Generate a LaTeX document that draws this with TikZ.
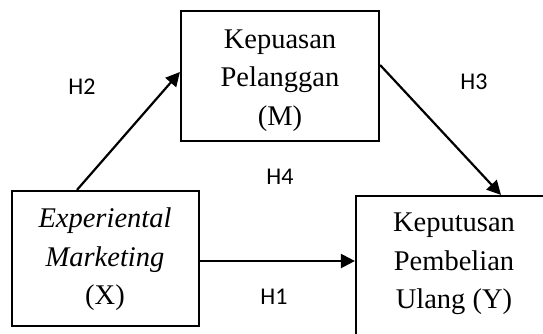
\documentclass[tikz,border=0pt]{standalone}
\usepackage{fontspec}
\setmainfont{Liberation Serif}
\newfontfamily\hfont{Carlito}
\usetikzlibrary{arrows.meta}
\begin{document}
\begin{tikzpicture}[x=1pt,y=-1pt,
  box/.style={draw,line width=2.2pt,rectangle,inner sep=0pt},
  btext/.style={inner sep=0pt,align=center,font=\fontsize{28.5}{38.5}\selectfont},
  arr/.style={line width=2.2pt,-{Triangle[length=14pt,width=14pt]}},
  hlab/.style={font=\hfont\fontsize{24}{28}\selectfont,inner sep=0pt}]
\useasboundingbox (0,0) rectangle (543,333);
\clip (0,0) rectangle (543,333);
\node[box,minimum width=187pt,minimum height=135pt] (X) at (105.5,258.5) {};
\node[btext] (Xtext) at (105,259.5)
  {\textit{Experiental}\\\textit{Marketing}\\(X)};
\node[box,minimum width=198pt,minimum height=130pt] (M) at (280,76) {};
\node[btext] (Mtext) at (280,80.5) {Kepuasan\\Pelanggan\\(M)};
\node[box,minimum width=220pt,minimum height=200pt] (Ybox) at (466,296) {};
\node[btext] (Ytext) at (454,264)
  {Keputusan\\Pembelian\\Ulang (Y)};
\draw[arr] ([xshift=-28.5pt]X.north) -- ([yshift=4pt]M.west);
\draw[arr] ([yshift=11pt]M.east) -- ([xshift=35pt]Ybox.north);
\draw[arr] ([yshift=-2.5pt]X.east) -- ([yshift=-2.5pt]X.east -| Ybox.west);
\node[hlab] (h2) at (82,87) {H2};
\node[hlab] (h3) at (474,82) {H3};
\node[hlab] (h4) at (280,177) {H4};
\node[hlab] (h1) at (274,297) {H1};
\end{tikzpicture}
\end{document}
